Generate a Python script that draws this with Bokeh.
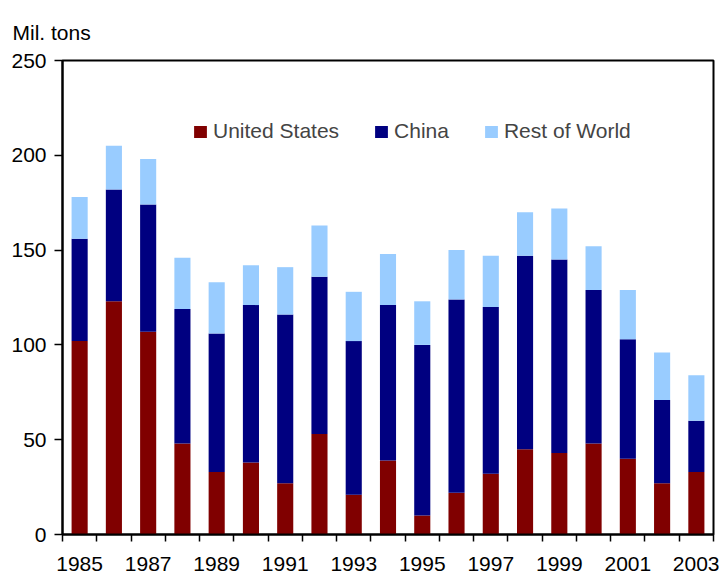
from bokeh.plotting import figure
from bokeh.models import ColumnDataSource, FixedTicker, Legend
from bokeh.embed import file_html
from bokeh.resources import INLINE

years = list(range(1985, 2004))
united_states = [102, 123, 107, 48, 33, 38, 27, 53, 21, 39, 10, 22, 32, 45, 43, 48, 40, 27, 33]
china = [54, 59, 67, 71, 73, 83, 89, 83, 81, 82, 90, 102, 88, 102, 102, 81, 63, 44, 27]
rest_of_world = [22, 23, 24, 27, 27, 21, 25, 27, 26, 27, 23, 26, 27, 23, 27, 23, 26, 25, 24]
series = ["United States", "China", "Rest of World"]
colors = ["#800000", "#000080", "#99CCFF"]
y_ticks = [0, 50, 100, 150, 200, 250]
unit_label = "Mil. tons"

source = ColumnDataSource(data={"year": years, "United States": united_states,
                                "China": china, "Rest of World": rest_of_world})

FONT = "Liberation Sans"
FS = "21px"

p = figure(width=719, height=573, output_backend="svg", toolbar_location=None,
           x_range=(years[0] - 0.5, years[-1] + 0.5), y_range=(0, 250),
           min_border_left=62, min_border_right=6, min_border_top=60, min_border_bottom=39)

renderers = p.vbar_stack(series, x="year", width=0.47, color=colors, line_color=None, source=source)

p.title.text = unit_label
p.title.align = "left"
p.title.offset = -50
p.title.standoff = 34
p.title.text_font = FONT
p.title.text_font_size = FS
p.title.text_font_style = "normal"
p.title.text_color = "black"

p.xgrid.visible = False
p.ygrid.visible = False
p.outline_line_color = "black"
p.outline_line_width = 2
p.outline_line_alpha = 1

p.yaxis.ticker = FixedTicker(ticks=y_ticks)
p.yaxis.axis_line_width = 2
p.yaxis.axis_line_color = "black"
p.yaxis.major_tick_out = 8
p.yaxis.major_tick_in = 0
p.yaxis.major_tick_line_width = 1.5
p.yaxis.minor_tick_line_color = None
p.yaxis.major_label_text_font = FONT
p.yaxis.major_label_text_font_size = FS
p.yaxis.major_label_text_color = "black"
p.yaxis.major_label_standoff = 8

p.xaxis.ticker = FixedTicker(ticks=[y for y in years if y % 2 == 1],
                             minor_ticks=[y - 0.5 for y in years] + [years[-1] + 0.5])
p.xaxis.axis_line_width = 2
p.xaxis.axis_line_color = "black"
p.xaxis.major_tick_line_color = None
p.xaxis.minor_tick_out = 7
p.xaxis.minor_tick_in = 0
p.xaxis.minor_tick_line_width = 1.5
p.xaxis.minor_tick_line_color = "black"
p.xaxis.major_label_text_font = FONT
p.xaxis.major_label_text_font_size = FS
p.xaxis.major_label_text_color = "black"
p.xaxis.major_label_standoff = 15

legend = Legend(items=[(name, [r]) for name, r in zip(series, renderers)],
                orientation="horizontal", location=(130, 391),
                background_fill_alpha=0, border_line_color=None,
                label_text_font=FONT, label_text_font_size=FS,
                glyph_width=16, glyph_height=15, label_standoff=5, spacing=34,
                padding=0, margin=0)
p.add_layout(legend, "center")

open("out.html", "w").write(file_html(p, INLINE))
